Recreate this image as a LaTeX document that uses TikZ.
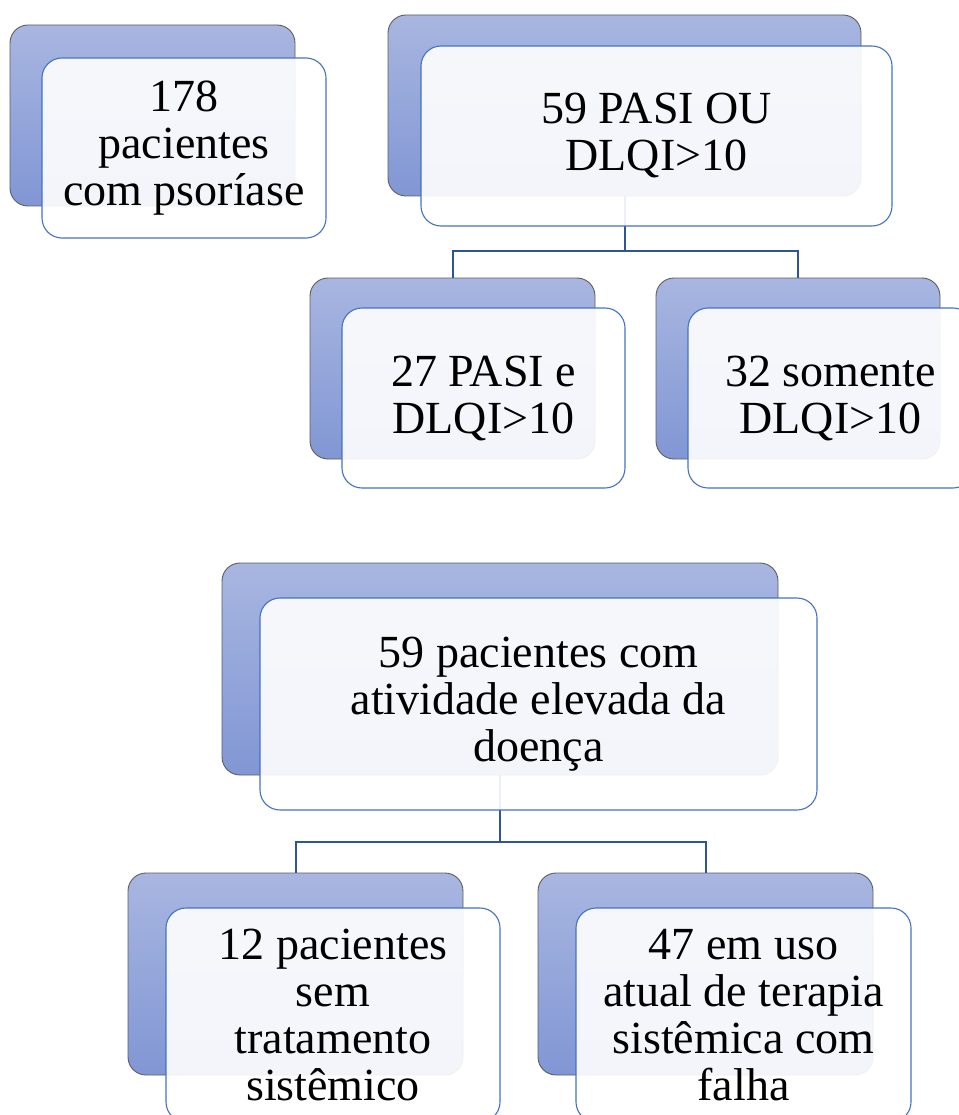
\documentclass[tikz,border=0pt]{standalone}
\usepackage{fontspec}
\setmainfont{Liberation Serif}
\definecolor{backtop}{HTML}{A8B6E0}
\definecolor{backbot}{HTML}{8196D4}
\definecolor{backline}{HTML}{5E5E5E}
\definecolor{frontline}{HTML}{4472C4}
\definecolor{connline}{HTML}{2F5597}
\begin{document}
\begin{tikzpicture}[x=1pt,y=-1pt,
  backbox/.style={draw=backline, line width=0.9pt, rounded corners=18pt,
    top color=backtop, bottom color=backbot, inner sep=0pt},
  frontbox/.style={draw=frontline, line width=1.1pt, rounded corners=20pt,
    fill=white, fill opacity=0.91, text opacity=1, inner sep=0pt, align=center,
    font=\fontsize{46}{47}\selectfont},
  conn/.style={draw=connline, line width=2pt}]
\useasboundingbox (0,0) rectangle (958,1115);
% back boxes
\node[backbox, minimum width=285pt, minimum height=181pt] (b1back) at (152.5,115.5) {};
\node[backbox, minimum width=473pt, minimum height=181pt] (b2back) at (624.5,105.5) {};
\node[backbox, minimum width=285pt, minimum height=181pt] (b3back) at (452.5,368.5) {};
\node[backbox, minimum width=284pt, minimum height=181pt] (b4back) at (798,368.5) {};
\node[backbox, minimum width=556pt, minimum height=212pt] (b5back) at (500,669) {};
\node[backbox, minimum width=335pt, minimum height=202pt] (b6back) at (295.5,974) {};
\node[backbox, minimum width=335pt, minimum height=202pt] (b7back) at (705.5,974) {};
% connectors
\coordinate (j1) at (625,251);
\coordinate (j2) at (500,842);
\draw[conn] (b2back.south) -- (b2back.south |- j1) -| (b3back.north);
\draw[conn] (b2back.south |- j1) -| (b4back.north);
\draw[conn] (b5back.south) -- (b5back.south |- j2) -| (b6back.north);
\draw[conn] (b5back.south |- j2) -| (b7back.north);
% front boxes
\node[frontbox, minimum width=284pt, minimum height=180pt] (b1) at (184,148) {178\\pacientes\\com psoríase};
\node[frontbox, minimum width=471pt, minimum height=180pt] (b2) at (656.5,136) {59 PASI OU\\DLQI>10};
\node[frontbox, minimum width=283pt, minimum height=180pt] (b3) at (483.5,398) {27 PASI e\\DLQI>10};
\node[frontbox, minimum width=285pt, minimum height=180pt] (b4) at (830.5,398) {32 somente\\DLQI>10};
\node[frontbox, minimum width=557pt, minimum height=212pt] (b5) at (538.5,704) {59 pacientes com\\atividade elevada da\\doença};
\node[frontbox, minimum width=334pt, minimum height=214pt] (b6) at (333,1015) {12 pacientes\\sem\\tratamento\\sistêmico};
\node[frontbox, minimum width=335pt, minimum height=214pt] (b7) at (743.5,1015) {47 em uso\\atual de terapia\\sistêmica com\\falha};
\end{tikzpicture}
\end{document}
